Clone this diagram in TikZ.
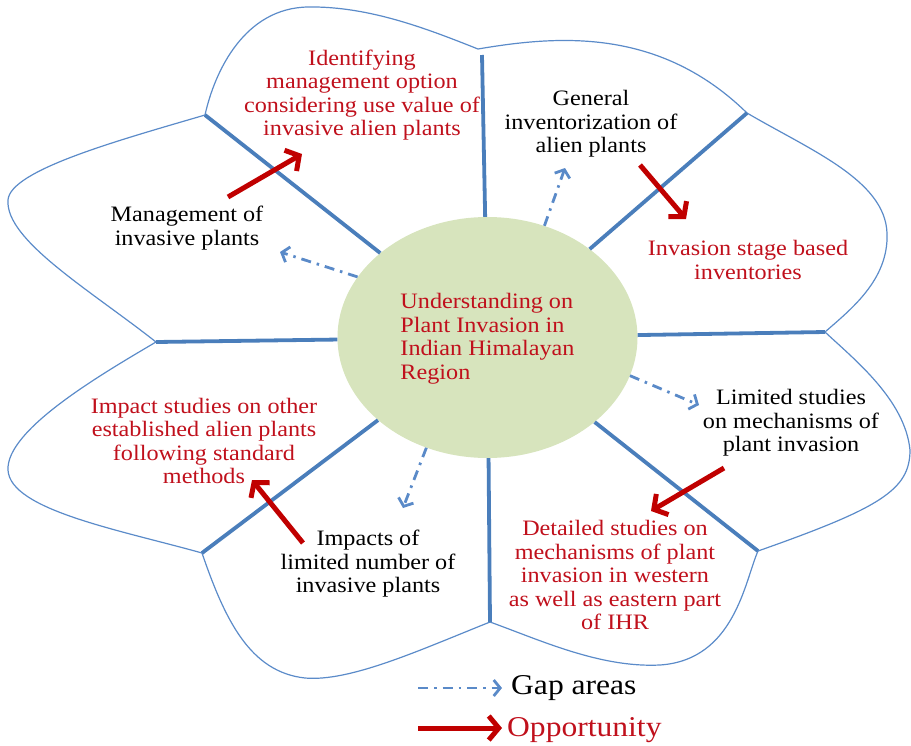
\documentclass[tikz,border=0pt]{standalone}
\usepackage{fontspec}
\setmainfont{Liberation Serif}[FakeStretch=1.1]
\usetikzlibrary{arrows.meta,shapes.geometric}
\definecolor{outl}{HTML}{5B8BC9}
\definecolor{spk}{HTML}{4A7EBB}
\definecolor{gapc}{HTML}{5A8AC8}
\definecolor{oppc}{HTML}{C00000}
\definecolor{redt}{HTML}{C0101C}
\definecolor{ellf}{HTML}{D7E4BD}
\tikzset{
  outline/.style={draw=outl,line width=1.2pt,line join=miter},
  spoke/.style={draw=spk,line width=3.8pt},
  gaparrow/.style={draw=gapc,line width=2.8pt,dash pattern=on 10pt off 6pt on 2.5pt off 6pt,-{Straight Barb[length=6.5pt,width=16pt]}},
  opparrow/.style={draw=oppc,line width=5pt,-{Straight Barb[length=10pt,width=24pt]}},
  lbl/.style={align=center,inner sep=0pt,font=\fontsize{22}{23.5}\selectfont},
  redlbl/.style={lbl,text=redt},
  leg/.style={anchor=west,inner sep=0pt,font=\fontsize{28.7}{30}\selectfont}
}
\begin{document}
\begin{tikzpicture}[x=1pt,y=-1pt]
\useasboundingbox (0,0) rectangle (911,745);
% vertices of the outline
\coordinate (vTL) at (205,115);
\coordinate (vT) at (478,49);
\coordinate (vTR) at (747,113);
\coordinate (vR) at (825,332);
\coordinate (vBR) at (758,551);
\coordinate (vB) at (490,622);
\coordinate (vBL) at (202,553);
\coordinate (vL) at (156,342);
% lobes
\draw[outline] (vTL) .. controls (215,70) and (245,8) .. (308,7) .. controls (370,6) and (430,30) .. (vT);
\draw[outline] (vT) .. controls (560,35) and (660,28) .. (vTR);
\draw[outline] (vTR) .. controls (810,150) and (885,180) .. (887,233) .. controls (889,280) and (850,310) .. (vR);
\draw[outline] (vR) .. controls (855,360) and (905,400) .. (910,450) .. controls (910,490) and (880,508) .. (vBR);
\draw[outline] (vBR) .. controls (745,580) and (735,660) .. (660,665) .. controls (600,668) and (540,640) .. (vB);
\draw[outline] (vB) .. controls (420,650) and (350,682) .. (305,678) .. controls (250,672) and (225,620) .. (vBL);
\draw[outline] (vBL) .. controls (120,530) and (10,510) .. (8,470) .. controls (6,430) and (100,375) .. (vL);
\draw[outline] (vL) .. controls (90,290) and (5,240) .. (8,200) .. controls (10,170) and (120,140) .. (vTL);
% centre
\node[ellipse,fill=ellf,minimum width=300pt,minimum height=241pt,inner sep=0pt] (c) at (487.5,337.5) {};
\node[align=left,inner sep=0pt,text=redt,font=\fontsize{22}{23.5}\selectfont] (ct) at (487.5,338.5) {Understanding on\\Plant Invasion in\\Indian Himalayan\\Region};
% spokes
\draw[spoke] (vTL) -- (c);
\draw[spoke] (482,55) -- (c);
\draw[spoke] (vTR) -- (c);
\draw[spoke] (vR) -- (c);
\draw[spoke] (vBR) -- (c);
\draw[spoke] (vB) -- (c);
\draw[spoke] (vBL) -- (c);
\draw[spoke] (vL) -- (c);
% labels
\node[redlbl] (ident) at (362,95) {Identifying\\management option\\considering use value of\\invasive alien plants};
\node[lbl] (general) at (591,124) {General\\inventorization of\\alien plants};
\node[redlbl] (invstage) at (748,260) {Invasion stage based\\inventories};
\node[lbl] (mgmt) at (187,228) {Management of\\invasive plants};
\node[lbl] (limited) at (791,423) {Limited studies\\on mechanisms of\\plant invasion};
\node[redlbl] (detailed) at (615,575) {Detailed studies on\\mechanisms of plant\\invasion in western\\as well as eastern part\\of IHR};
\node[redlbl] (impactst) at (204,441) {Impact studies on other\\established alien plants\\following standard\\methods};
\node[lbl] (impacts) at (368,564) {Impacts of\\limited number of\\invasive plants};
% arrow end points
\coordinate (gM) at (280,252);
\coordinate (gG) at (565,168);
\coordinate (gL) at (699,405);
\coordinate (gI) at (403,508);
\coordinate (oMs) at (228,197);
\coordinate (oMe) at (302,154);
\coordinate (oGs) at (640,165);
\coordinate (oGe) at (686,219);
\coordinate (oLs) at (724,468);
\coordinate (oLe) at (651,511);
\coordinate (oIs) at (303,543);
\coordinate (oIe) at (252,480);
% gap arrows
\draw[gaparrow] (c.155) -- (gM);
\draw[gaparrow] (c.63) -- (gG);
\draw[gaparrow] (c.-15) -- (gL);
\draw[gaparrow] (c.241) -- (gI);
% opportunity arrows
\draw[opparrow] (oMs) -- (oMe);
\draw[opparrow] (oGs) -- (oGe);
\draw[opparrow] (oLs) -- (oLe);
\draw[opparrow] (oIs) -- (oIe);
% legend
\coordinate (lg1) at (418,688);
\coordinate (lg2) at (502,688);
\coordinate (lo1) at (418,728);
\coordinate (lo2) at (502,728);
\draw[gaparrow] (lg1) -- (lg2);
\draw[opparrow] (lo1) -- (lo2);
\node[leg] (tgap) at (511,688) {Gap areas};
\node[leg,text=redt] (topp) at (507,730) {Opportunity};
\end{tikzpicture}
\end{document}
